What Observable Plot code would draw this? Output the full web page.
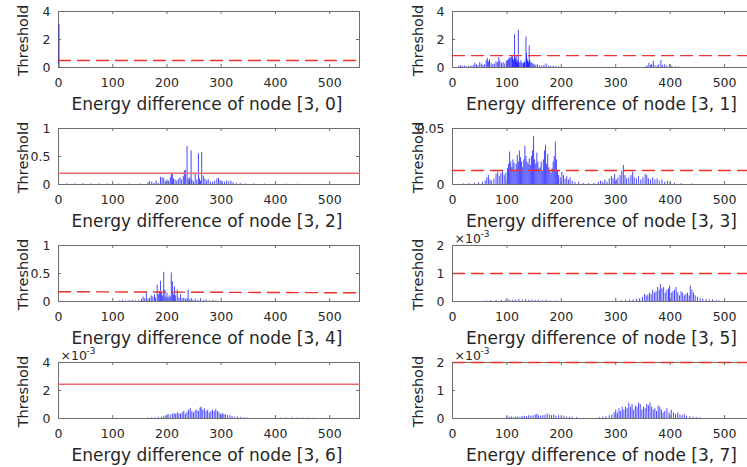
<!DOCTYPE html>
<html>
<head>
<meta charset="utf-8">
<script src="https://cdn.jsdelivr.net/npm/d3@7"></script>
<script src="https://cdn.jsdelivr.net/npm/@observablehq/plot@0.6"></script>
<style>
  html, body { margin: 0; padding: 0; background: #fff; }
  #fig { position: relative; width: 747px; height: 467px; overflow: hidden; background: #fff; }
  .cell { position: absolute; }
  .cell svg { overflow: visible; max-width: none !important; display: block; }
</style>
</head>
<body>
<div id="fig"></div>
<script>
// ---- data (x = energy difference, y = threshold value) ----
const xTicks = [0, 100, 200, 300, 400, 500];
const xMax = 555;

const node30 = [[1, 3.05], [2, 0.02]];
const node31 = [[12,0.1],[15,0.12],[18,0.08],[22,0.1],[26,0.06],[30,0.08],[34,0.1],[38,0.15],[41,0.3],[44,0.2],[47,0.12],[50,0.35],[53,0.25],[56,0.15],[59,0.2],[62,0.5],[64,0.65],[66,0.4],[68,0.55],[71,0.3],[74,0.2],[77,0.25],[80,0.4],[83,0.35],[85,0.7],[87,0.45],[90,0.3],[93,0.35],[96,0.25],[99,0.45],[101,0.5],[103,0.6],[105,0.65],[107,0.7],[109,0.75],[110,0.8],[111,0.6],[112,0.5],[114,2.34],[115,0.7],[116,0.55],[117,0.8],[118,0.4],[119,0.3],[120,0.5],[121,2.67],[122,0.3],[124,0.35],[126,0.5],[128,0.3],[130,0.25],[131,0.3],[132,0.4],[133,0.35],[135,2.18],[136,1.0],[137,0.6],[138,0.45],[139,0.4],[140,0.3],[141,1.54],[142,0.5],[144,0.35],[146,0.3],[148,0.25],[150,0.2],[153,0.15],[156,0.2],[160,0.12],[164,0.1],[168,0.15],[172,0.25],[176,0.1],[180,0.08],[185,0.1],[190,0.05],[195,0.06],[355,0.05],[358,0.1],[361,0.3],[364,0.15],[366,0.2],[369,0.45],[372,0.12],[376,0.1],[379,0.2],[383,0.5],[386,0.15],[390,0.2],[394,0.1],[399,0.2],[403,0.08],[410,0.05],[416,0.04]];
const node32 = [[15,0.01],[30,0.01],[45,0.015],[60,0.01],[75,0.012],[90,0.01],[110,0.01],[130,0.008],[150,0.01],[165,0.03],[168,0.05],[172,0.04],[176,0.02],[180,0.06],[184,0.02],[188,0.13],[191,0.12],[194,0.11],[197,0.05],[200,0.08],[203,0.06],[206,0.12],[208,0.19],[210,0.2],[212,0.1],[215,0.08],[218,0.06],[221,0.09],[224,0.12],[227,0.08],[230,0.14],[232,0.24],[234,0.25],[237,0.68],[239,0.1],[241,0.07],[242,0.12],[244.5,0.6],[246,0.08],[249,0.05],[252,0.18],[255,0.08],[258,0.55],[260,0.1],[262,0.06],[264,0.57],[267,0.15],[270,0.1],[273,0.06],[276,0.09],[280,0.05],[284,0.04],[288,0.06],[292,0.1],[295,0.11],[298,0.07],[302,0.05],[306,0.04],[310,0.06],[314,0.05],[318,0.06],[322,0.03],[328,0.02],[335,0.02],[345,0.01],[360,0.01],[380,0.008],[400,0.008],[420,0.006],[440,0.005]];
const node33 = [[20,0.0005],[30,0.0008],[40,0.001],[48,0.0015],[55,0.002],[60,0.003],[63,0.006],[66,0.008],[69,0.004],[72,0.003],[76,0.005],[80,0.009],[83,0.011],[86,0.007],[89,0.01],[92,0.012],[95,0.008],[98,0.01],[101,0.014],[103,0.018],[105,0.029],[107,0.02],[109,0.015],[111,0.022],[113,0.019],[115,0.012],[117,0.018],[119,0.026],[121,0.02],[123,0.03],[125,0.024],[127,0.02],[129,0.015],[131,0.022],[133,0.034],[135,0.025],[137,0.02],[139,0.018],[141,0.023],[143,0.017],[145,0.025],[147,0.03],[149,0.043],[151,0.022],[153,0.018],[155,0.028],[157,0.02],[159,0.014],[161,0.015],[163,0.02],[165,0.012],[167,0.022],[169,0.03],[171,0.035],[173,0.018],[175,0.027],[177,0.015],[179,0.012],[181,0.01],[183,0.014],[185,0.02],[187,0.025],[189,0.038],[191,0.022],[193,0.012],[195,0.008],[198,0.006],[201,0.011],[204,0.008],[207,0.005],[210,0.007],[213,0.004],[216,0.006],[220,0.003],[225,0.002],[232,0.002],[240,0.001],[250,0.0008],[260,0.001],[268,0.002],[272,0.003],[276,0.002],[280,0.004],[284,0.002],[288,0.005],[292,0.007],[295,0.005],[298,0.009],[301,0.004],[304,0.006],[308,0.008],[311,0.012],[314,0.017],[317,0.008],[320,0.005],[324,0.006],[328,0.008],[331,0.011],[334,0.006],[338,0.005],[342,0.007],[346,0.004],[350,0.006],[354,0.009],[357,0.008],[360,0.005],[364,0.004],[368,0.006],[372,0.004],[376,0.005],[380,0.003],[385,0.004],[390,0.002],[395,0.003],[400,0.002],[408,0.001],[420,0.0008],[440,0.0005]];
const node34 = [[112,0.01],[118,0.02],[124,0.01],[130,0.015],[136,0.02],[142,0.01],[148,0.02],[153,0.04],[156,0.08],[159,0.05],[162,0.17],[165,0.04],[168,0.06],[171,0.1],[174,0.08],[177,0.12],[179,0.06],[182,0.29],[184,0.12],[186,0.18],[188,0.36],[190,0.15],[192,0.1],[194,0.52],[196,0.2],[198,0.08],[200,0.15],[202,0.06],[204,0.1],[206,0.08],[208,0.51],[210,0.35],[212,0.12],[214,0.26],[216,0.1],[219,0.2],[222,0.06],[225,0.12],[228,0.05],[231,0.06],[234,0.04],[237,0.05],[239,0.2],[242,0.03],[245,0.05],[248,0.02],[252,0.04],[257,0.02],[262,0.05],[267,0.02],[272,0.03],[278,0.01],[285,0.02],[290,0.01]];
const node35 = [[62,0.00002],[70,0.00003],[80,0.00003],[90,0.00004],[98,0.00005],[104,0.00006],[110,0.00004],[116,0.00005],[122,0.00007],[128,0.00005],[134,0.00006],[140,0.00004],[146,0.00005],[152,0.00003],[158,0.00004],[165,0.00003],[172,0.00004],[180,0.00002],[190,0.00002],[200,0.00001],[300,0.00002],[310,0.00003],[318,0.00004],[325,0.00005],[332,0.00006],[338,0.00008],[344,0.0001],[349,0.00015],[353,0.00025],[356,0.0002],[359,0.00022],[362,0.0003],[365,0.00025],[368,0.0004],[371,0.0003],[374,0.00035],[377,0.0005],[380,0.0004],[382,0.0006],[385,0.00045],[388,0.0005],[391,0.0003],[394,0.0004],[397,0.00045],[399,0.00055],[402,0.0003],[405,0.00035],[408,0.0004],[411,0.0005],[414,0.0003],[417,0.0002],[420,0.00035],[423,0.0003],[426,0.0002],[429,0.00025],[432,0.0003],[435,0.0002],[437,0.00055],[440,0.0004],[443,0.0003],[446,0.0002],[450,0.00015],[455,0.0001],[460,0.00008],[466,0.00006],[472,0.00005],[478,0.00006],[485,0.00003],[490,0.00002]];
const node36 = [[165,0.00003],[172,0.00005],[178,0.00004],[184,0.00008],[190,0.0001],[194,0.00015],[198,0.0002],[202,0.0003],[206,0.00025],[210,0.0003],[213,0.00035],[216,0.0003],[219,0.0004],[222,0.00035],[225,0.0003],[228,0.0004],[231,0.0005],[234,0.0003],[237,0.00045],[240,0.0006],[243,0.0007],[246,0.0005],[249,0.0004],[252,0.00055],[255,0.0006],[258,0.0005],[261,0.00075],[263,0.0008],[266,0.0006],[269,0.0007],[272,0.0005],[275,0.0006],[278,0.0004],[281,0.0005],[284,0.0006],[287,0.0005],[290,0.00065],[293,0.0005],[296,0.0004],[299,0.0003],[302,0.00035],[305,0.0003],[308,0.00025],[312,0.0002],[316,0.0002],[320,0.00015],[325,0.0001],[330,0.0001],[336,0.00008],[342,0.00005],[348,0.00003],[400,0.00002],[410,0.00003],[420,0.00004],[430,0.00005],[440,0.00003],[450,0.00004],[460,0.00003],[470,0.00002]];
const node37 = [[100,0.00005],[104,0.00004],[108,0.00006],[112,0.00003],[116,0.00005],[120,0.00006],[124,0.00004],[128,0.00007],[132,0.00008],[136,0.00006],[140,0.0001],[144,0.00008],[148,0.0001],[152,0.00012],[155,0.00015],[158,0.0001],[162,0.00008],[166,0.0001],[170,0.00012],[174,0.00016],[178,0.00012],[182,0.0001],[186,0.00013],[190,0.00008],[195,0.0001],[200,0.00006],[205,0.00008],[210,0.00005],[215,0.00004],[220,0.00005],[228,0.00003],[270,0.00003],[276,0.00005],[282,0.00006],[288,0.0001],[293,0.00012],[297,0.0002],[300,0.0003],[303,0.0002],[306,0.00035],[309,0.00025],[312,0.0004],[315,0.0003],[318,0.0004],[321,0.00035],[324,0.00055],[327,0.0004],[330,0.0005],[333,0.0003],[336,0.00045],[339,0.0004],[342,0.00055],[345,0.0005],[348,0.0003],[351,0.0004],[354,0.00035],[357,0.0005],[360,0.00045],[363,0.00055],[366,0.0004],[369,0.0003],[372,0.00035],[375,0.00025],[378,0.00045],[381,0.0004],[384,0.0003],[387,0.0002],[390,0.00025],[394,0.00035],[398,0.0002],[402,0.0003],[406,0.0002],[410,0.00015],[414,0.0002],[418,0.00012],[422,0.0001],[426,0.00015],[430,0.00008],[436,0.00006],[442,0.00005],[448,0.00004],[455,0.00003]];

// thresholds: [start value, end value]
const thr30 = [0.5, 0.5];
const thr31 = [0.85, 0.85];
const thr32 = [0.2, 0.2];
const thr33 = [0.0125, 0.0125];
const thr34 = [0.175, 0.155];
const thr35 = [0.001, 0.001];
const thr36 = [0.00245, 0.00245];
const thr37 = [0.002, 0.002];

const labels = ["[3, 0]", "[3, 1]", "[3, 2]", "[3, 3]", "[3, 4]", "[3, 5]", "[3, 6]", "[3, 7]"];
const yTicksA = [0, 2, 4];
const yTicksB = [0, 0.5, 1];
const yTicksC = [0, 0.05];
const yTicksD = [0, 0.001, 0.002];
const yTicksE = [0, 0.002, 0.004];

const panels = [
  {data: node30, thr: thr30, dashed: true,  ymax: 4,     ticks: yTicksA, exp: false},
  {data: node31, thr: thr31, dashed: true,  ymax: 4,     ticks: yTicksA, exp: false},
  {data: node32, thr: thr32, dashed: false, ymax: 1,     ticks: yTicksB, exp: false},
  {data: node33, thr: thr33, dashed: true,  ymax: 0.05,  ticks: yTicksC, exp: false},
  {data: node34, thr: thr34, dashed: true,  ymax: 1,     ticks: yTicksB, exp: false},
  {data: node35, thr: thr35, dashed: true,  ymax: 0.002, ticks: yTicksD, exp: true},
  {data: node36, thr: thr36, dashed: false, ymax: 0.004, ticks: yTicksE, exp: true},
  {data: node37, thr: thr37, dashed: true,  ymax: 0.002, ticks: yTicksD, exp: true}
];

const fig = document.getElementById("fig");
const FONT = "DejaVu Sans";
const TXT = "#262626";
const AX = "#6e6e6e";

panels.forEach((p, i) => {
  const col = i % 2, row = Math.floor(i / 2);
  const left = col === 0 ? 0 : 375;
  const mL = col === 0 ? 58 : 77;
  const W = col === 0 ? 375 : 395;
  const mR = 16, mT = 11, mB = 50, H = 117;
  const pw = W - mL - mR, ph = H - mT - mB;
  const fmt = p.exp ? (d => String(Math.round(d * 1000))) : (d => String(d));
  const thrLine = [[0, p.thr[0]], [xMax, p.thr[1]]];
  const marks = [
    Plot.frame({stroke: AX, strokeWidth: 1}),
    Plot.ruleX(p.data, {x: d => d[0], y1: 0, y2: d => d[1], stroke: "#0000ff", strokeWidth: 0.9, strokeOpacity: 0.8, clip: true}),
    Plot.line(thrLine, {x: d => d[0], y: d => d[1], stroke: p.dashed ? "#e8302c" : "#ee6a6a", strokeWidth: p.dashed ? 1.4 : 1.6, strokeDasharray: p.dashed ? "12,7" : null}),
    Plot.ruleX(xTicks, {x: d => d, insetTop: ph - 3, stroke: AX}),
    Plot.ruleX(xTicks, {x: d => d, insetBottom: ph - 3, stroke: AX}),
    Plot.ruleY(p.ticks, {y: d => d, insetRight: pw - 3, stroke: AX}),
    Plot.ruleY(p.ticks, {y: d => d, insetLeft: pw - 3, stroke: AX}),
    Plot.axisX({ticks: xTicks, tickSize: 0, tickPadding: 11, fontSize: 12.5, fill: TXT, label: null}),
    Plot.axisY({ticks: p.ticks, tickSize: 0, tickPadding: 8, fontSize: 12.5, fill: TXT, label: null, tickFormat: fmt}),
    Plot.text(["Threshold"], {text: d => d, frameAnchor: "left", textAnchor: "middle", lineAnchor: "middle", rotate: -90, dx: col === 0 ? -35 : -34, dy: 1, fontSize: 14.5, fill: TXT}),
    Plot.text(["Energy difference of node " + labels[i]], {text: d => d, frameAnchor: "bottom", textAnchor: "middle", dy: 37, dx: -2, lineAnchor: "middle", fontSize: 17, fill: TXT})
  ];
  if (p.exp) {
    marks.push(Plot.text(["×10"], {text: d => d, frameAnchor: "top-left", textAnchor: "start", lineAnchor: "bottom", dx: 2, dy: -3, fontSize: 12.5, fill: TXT}));
    marks.push(Plot.text(["-3"], {text: d => d, frameAnchor: "top-left", textAnchor: "start", lineAnchor: "bottom", dx: 28, dy: -9, fontSize: 9, fill: TXT}));
  }
  const svg = Plot.plot({
    width: W, height: H,
    marginLeft: mL, marginRight: mR, marginTop: mT, marginBottom: mB,
    x: {domain: [0, xMax]},
    y: {domain: [0, p.ymax]},
    style: {fontFamily: FONT, background: "transparent", overflow: "visible", maxWidth: "none"},
    marks
  });
  const div = document.createElement("div");
  div.className = "cell";
  div.style.left = left + "px";
  div.style.top = (row * 117) + "px";
  div.style.width = W + "px";
  div.style.height = H + "px";
  div.appendChild(svg);
  fig.appendChild(div);
});
</script>
</body>
</html>
